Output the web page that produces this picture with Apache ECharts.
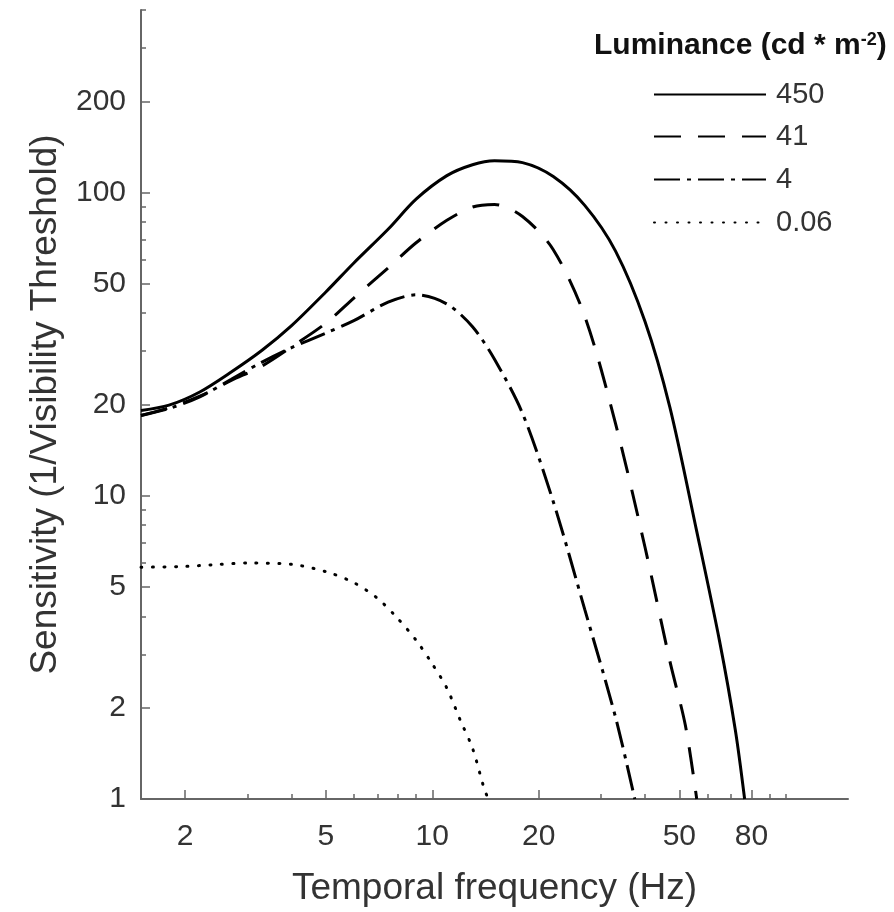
<!DOCTYPE html>
<html><head><meta charset="utf-8">
<script src="https://cdn.jsdelivr.net/npm/echarts@6/dist/echarts.min.js"></script>
<style>html,body{margin:0;padding:0;background:#fff}#chart{width:894px;height:912px}</style>
</head><body><div id="chart"></div>
<script>
// ---- data ----
const freqBright = [1.5, 1.8, 2.2, 2.7, 3.3, 4, 5, 6, 7.5, 9, 11, 13, 15, 18, 22, 27, 33, 40, 47, 56, 65, 72, 76.5];
const sens450 = [19.1, 19.9, 22.0, 25.6, 30.2, 36.4, 47.0, 58.6, 75.7, 95.1, 113.7, 123.5, 127.3, 125.5, 112.9, 90.7, 64.1, 37.5, 19.6, 7.63, 3.31, 1.69, 1];
const freq41 = [1.5, 1.8, 2.2, 2.7, 3.3, 4, 5, 6, 7.5, 9, 11, 13, 15, 18, 22, 27, 33, 40, 47, 52, 56];
const sens41 = [18.4, 19.5, 21.3, 24.0, 26.8, 31.0, 37.1, 44.9, 56.4, 68.3, 81.0, 89.6, 91.4, 83.4, 64.8, 39.1, 17.3, 6.75, 2.85, 1.75, 1];
const freq4 = [1.5, 1.8, 2.2, 2.7, 3.3, 4, 5, 6, 7.5, 9, 11, 13, 15, 18, 22, 27, 33, 37.4];
const sens4 = [18.4, 19.4, 21.2, 24.2, 27.6, 30.8, 34.4, 37.8, 43.5, 46.0, 42.9, 36.1, 28.2, 18.7, 9.56, 4.22, 1.86, 1];
const freq006 = [1.5, 2, 2.5, 3, 4, 5, 6, 7, 8, 9, 10, 11, 12, 13, 14, 14.4];
const sens006 = [5.81, 5.85, 5.94, 6.0, 5.94, 5.62, 5.17, 4.59, 3.93, 3.34, 2.79, 2.32, 1.82, 1.47, 1.09, 1];
const seriesNames = ['450', '41', '4', '0.06'];

const xMajorTicks = [2, 5, 10, 20, 50, 80];
const xMinorTicks = [3, 4, 6, 7, 8, 9, 30, 40, 60, 70, 90, 100];
const yMajorTicks = [1, 2, 5, 10, 20, 50, 100, 200];
const yMinorTicks = [3, 4, 6, 7, 8, 9, 30, 40, 60, 70, 80, 90, 300, 400];
const xRange = [1.5, 150];
const yRange = [1, 400];

const xTitle = 'Temporal frequency (Hz)';
const yTitle = 'Sensitivity (1/Visibility Threshold)';

// ---- helpers ----
const lg = Math.log10;
const toLog = (fs, vs) => fs.map((f, i) => [lg(f), lg(vs[i])]);
const fmt = v => String(Math.round(Math.pow(10, v) * 100) / 100);
const FONT = 'Liberation Sans';
const AX = '#666';
const TXT = '#333';

const chart = echarts.init(document.getElementById('chart'), null, {renderer: 'canvas'});

function mainAxis(range, major, ticksLen, labelMargin, extra) {
  return Object.assign({
    type: 'value', gridIndex: 0,
    min: lg(range[0]), max: lg(range[1]),
    splitLine: {show: false},
    axisLine: {show: true, lineStyle: {color: AX, width: 2}},
    axisTick: {show: true, inside: true, length: ticksLen, customValues: major.map(lg), lineStyle: {color: AX, width: 1.5}},
    axisLabel: {show: true, customValues: major.map(lg), formatter: fmt, fontSize: 30, fontFamily: FONT, color: TXT, margin: labelMargin},
  }, extra);
}
function minorAxis(range, minor, pos) {
  return {
    type: 'value', gridIndex: 0, position: pos,
    min: lg(range[0]), max: lg(range[1]),
    splitLine: {show: false},
    axisLine: {show: false},
    axisTick: {show: true, inside: true, length: 5, customValues: minor.map(lg), lineStyle: {color: AX, width: 1.5}},
    axisLabel: {show: false}
  };
}

const lineStyles = [
  {color: '#000', width: 3, type: 'solid'},
  {color: '#000', width: 3, type: [27, 17]},
  {color: '#000', width: 3, type: [26, 7, 4, 7]},
  {color: '#000', width: 3, type: [1, 10.5], cap: 'round'}
];
const datasets = [toLog(freqBright, sens450), toLog(freq41, sens41), toLog(freq4, sens4), toLog(freq006, sens006)];

const legendTops = [80, 122, 165, 208];

const option = {
  animation: false,
  backgroundColor: '#fff',
  title: {
    left: 594, top: 31, padding: 0,
    text: 'Luminance (cd * m{sup|-2})',
    textStyle: {
      fontFamily: FONT, fontSize: 30, fontWeight: 'bold', color: '#111',
      rich: {sup: {fontFamily: FONT, fontSize: 18, fontWeight: 'bold', color: '#111', verticalAlign: 'top', padding: [0, 0, 12, 0]}}
    }
  },
  legend: seriesNames.map((n, i) => ({
    data: [n], left: 653, top: legendTops[i], orient: 'vertical', padding: 0,
    itemWidth: 112, itemHeight: 28, selectedMode: false,
    itemStyle: {color: 'rgba(0,0,0,0)', borderWidth: 0, opacity: 0},
    textStyle: {fontFamily: FONT, fontSize: 29, color: TXT, padding: [0, 0, 0, 5]}
  })),
  grid: {left: 141, right: 46, top: 10, bottom: 108, containLabel: false},
  xAxis: [
    mainAxis(xRange, xMajorTicks, 9, 23, {
      position: 'bottom',
      name: xTitle, nameLocation: 'middle', nameGap: 71,
      nameTextStyle: {fontFamily: FONT, fontSize: 37, color: TXT}
    }),
    minorAxis(xRange, xMinorTicks, 'bottom')
  ],
  yAxis: [
    mainAxis(yRange, yMajorTicks, 9, 15, {
      position: 'left',
      name: yTitle, nameLocation: 'middle', nameGap: 77,
      nameTextStyle: {fontFamily: FONT, fontSize: 37, color: TXT}
    }),
    minorAxis(yRange, yMinorTicks, 'left')
  ],
  series: seriesNames.map((n, i) => ({
    name: n, type: 'line', xAxisIndex: 0, yAxisIndex: 0,
    data: datasets[i], showSymbol: false, symbol: 'none', smooth: 0.3, clip: true,
    lineStyle: lineStyles[i], itemStyle: {color: '#000'}
  }))
};
chart.setOption(option);
</script>
</body></html>
